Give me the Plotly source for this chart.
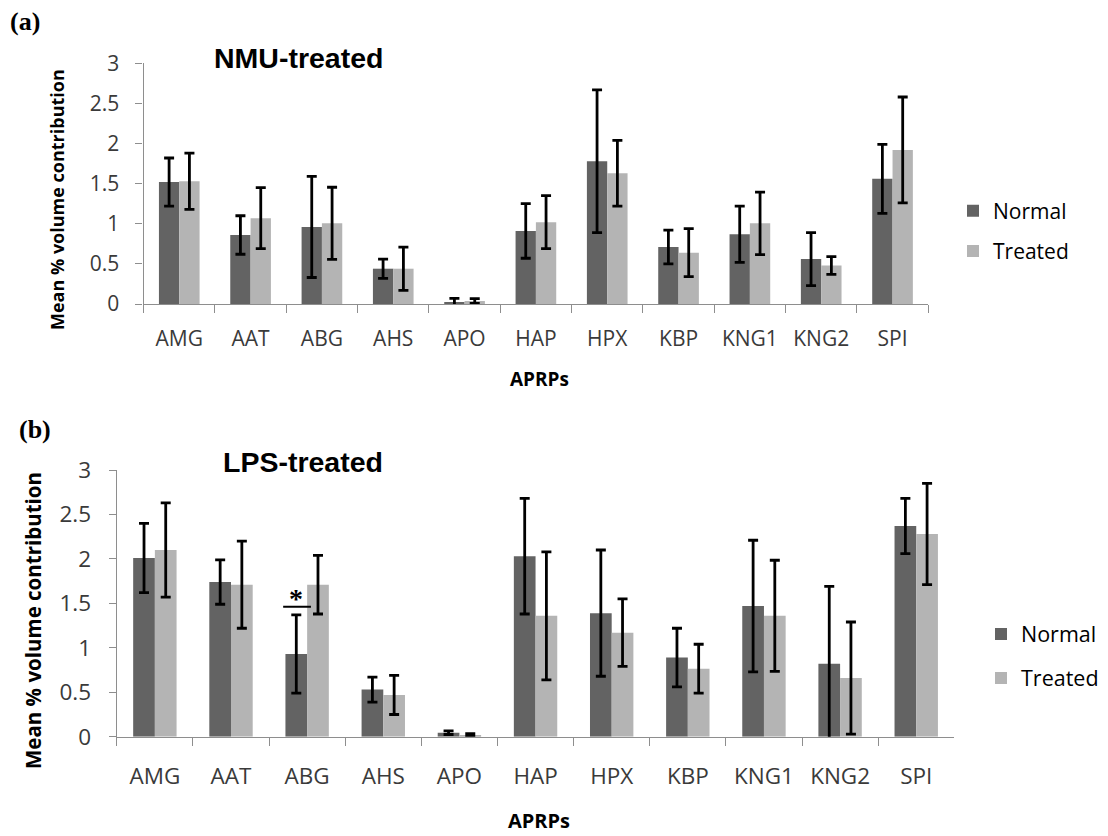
import plotly.graph_objects as go

W, H = 1108, 836

categories = ["AMG", "AAT", "ABG", "AHS", "APO", "HAP", "HPX", "KBP", "KNG1", "KNG2", "SPI"]

# (a) NMU-treated
nmu_normal = [1.52, 0.86, 0.96, 0.44, 0.025, 0.91, 1.78, 0.71, 0.87, 0.56, 1.56]
nmu_normal_err = [0.30, 0.24, 0.63, 0.12, 0.045, 0.34, 0.89, 0.21, 0.35, 0.33, 0.43]
nmu_treated = [1.53, 1.07, 1.005, 0.44, 0.037, 1.02, 1.63, 0.64, 1.005, 0.48, 1.92]
nmu_treated_err = [0.35, 0.38, 0.45, 0.27, 0.03, 0.33, 0.41, 0.30, 0.39, 0.11, 0.66]

# (b) LPS-treated
lps_normal = [2.01, 1.74, 0.93, 0.53, 0.045, 2.03, 1.39, 0.89, 1.47, 0.82, 2.37]
lps_normal_err = [0.39, 0.25, 0.44, 0.14, 0.02, 0.65, 0.71, 0.33, 0.74, 0.87, 0.31]
lps_treated = [2.10, 1.71, 1.71, 0.47, 0.02, 1.36, 1.17, 0.765, 1.36, 0.66, 2.28]
lps_treated_err = [0.53, 0.49, 0.33, 0.22, 0.015, 0.72, 0.38, 0.275, 0.625, 0.63, 0.57]

y_ticks = [0, 0.5, 1, 1.5, 2, 2.5, 3]
y_ticktext = ["0", "0.5", "1", "1.5", "2", "2.5", "3"]

C_NORMAL = "#636363"
C_TREATED = "#b4b4b4"
AXIS_C = "#8e8e8e"
TXT_C = "#3a3a3a"
SANS = "Open Sans"


def px(x):
    return x / W


def py(y):
    return 1 - y / H


fig = go.Figure()


def add_pair(normal, nerr, treated, terr, xa, ya, legend):
    for name, vals, err, col in [("Normal", normal, nerr, C_NORMAL), ("Treated", treated, terr, C_TREATED)]:
        fig.add_trace(go.Bar(
            x=categories, y=vals, name=name, marker=dict(color=col, line=dict(width=0)),
            error_y=dict(type="data", array=err, visible=True, color="black", thickness=2.8, width=5),
            xaxis=xa, yaxis=ya, legend=legend, legendgroup=legend + name,
        ))


add_pair(nmu_normal, nmu_normal_err, nmu_treated, nmu_treated_err, "x", "y", "legend")
add_pair(lps_normal, lps_normal_err, lps_treated, lps_treated_err, "x2", "y2", "legend2")


def xaxis_cfg(domain, anchor, fsize, standoff):
    return dict(domain=domain, anchor=anchor, type="category", showline=True, linecolor=AXIS_C, linewidth=1.3,
                ticks="outside", tickson="boundaries", ticklen=8, tickcolor=AXIS_C, tickwidth=1.3,
                tickfont=dict(family=SANS, size=fsize, color=TXT_C), showgrid=False, zeroline=False,
                ticklabelstandoff=standoff, fixedrange=True, automargin=False)


def yaxis_cfg(domain, anchor, fsize, standoff):
    return dict(domain=domain, anchor=anchor, range=[0, 3], tickmode="array", tickvals=y_ticks,
                ticktext=y_ticktext, showline=True, linecolor=AXIS_C, linewidth=1.3, ticks="outside",
                ticklen=7, tickcolor=AXIS_C, tickwidth=1.3,
                tickfont=dict(family=SANS, size=fsize, color=TXT_C), showgrid=False, zeroline=False,
                ticklabelstandoff=standoff, fixedrange=True, automargin=False)


annotations = [
    dict(text="<b>(a)</b>", x=px(8), y=py(21), xref="paper", yref="paper", xanchor="left", yanchor="middle",
         showarrow=False, font=dict(family="Liberation Serif", size=26, color="black")),
    dict(text="<b>(b)</b>", x=px(17), y=py(430), xref="paper", yref="paper", xanchor="left", yanchor="middle",
         showarrow=False, font=dict(family="Liberation Serif", size=26, color="black")),
    dict(text="<b>NMU-treated</b>", x=px(298), y=py(58), xref="paper", yref="paper", xanchor="center",
         yanchor="middle", showarrow=False, font=dict(family="Liberation Sans", size=28.5, color="black")),
    dict(text="<b>LPS-treated</b>", x=px(303), y=py(462), xref="paper", yref="paper", xanchor="center",
         yanchor="middle", showarrow=False, font=dict(family="Liberation Sans", size=28.5, color="black")),
    dict(text="<b>Mean % volume contribution</b>", x=px(57), y=py(200), xref="paper", yref="paper",
         xanchor="center", yanchor="middle", textangle=-90, showarrow=False,
         font=dict(family=SANS, size=18, color="black")),
    dict(text="<b>Mean % volume contribution</b>", x=px(33), y=py(621), xref="paper", yref="paper",
         xanchor="center", yanchor="middle", textangle=-90, showarrow=False,
         font=dict(family=SANS, size=20.5, color="black")),
    dict(text="<b>APRPs</b>", x=px(539), y=py(379), xref="paper", yref="paper", xanchor="center",
         yanchor="middle", showarrow=False, font=dict(family=SANS, size=19, color="black")),
    dict(text="<b>APRPs</b>", x=px(539), y=py(820), xref="paper", yref="paper", xanchor="center",
         yanchor="middle", showarrow=False, font=dict(family=SANS, size=20, color="black")),
    dict(text="<b>*</b>", x=2 - 0.15, y=1.55, xref="x2", yref="y2", xanchor="center", yanchor="middle",
         showarrow=False, font=dict(family="Liberation Serif", size=28, color="black")),
]

shapes = [
    dict(type="line", xref="x2", yref="y2", x0=2 - 0.315, x1=2 + 0.05, y0=1.462, y1=1.462,
         line=dict(color="black", width=2)),
]

fig.update_layout(
    width=W, height=H, margin=dict(l=0, r=0, t=0, b=0, pad=0, autoexpand=False),
    paper_bgcolor="white", plot_bgcolor="white",
    barmode="group", bargap=0.43, bargroupgap=0,
    xaxis=xaxis_cfg([px(143.6), px(928.2)], "y", 21, 16),
    yaxis=yaxis_cfg([py(304), py(63.3)], "x", 21, 12),
    xaxis2=xaxis_cfg([px(116.8), px(954.3)], "y2", 22.5, 19),
    yaxis2=yaxis_cfg([py(736.7), py(470)], "x2", 22.5, 13),
    legend=dict(x=px(953), y=py(231), xanchor="left", yanchor="middle", traceorder="grouped",
                tracegroupgap=10, font=dict(family=SANS, size=21, color="black"), bgcolor="rgba(0,0,0,0)"),
    legend2=dict(x=px(981), y=py(656), xanchor="left", yanchor="middle", traceorder="grouped",
                 tracegroupgap=13, font=dict(family=SANS, size=21.5, color="black"), bgcolor="rgba(0,0,0,0)"),
    annotations=annotations, shapes=shapes, showlegend=True,
)

fig.write_html("out.html", config={"displayModeBar": False},
               post_script="document.body.style.margin='0px';document.body.style.overflow='hidden';")
